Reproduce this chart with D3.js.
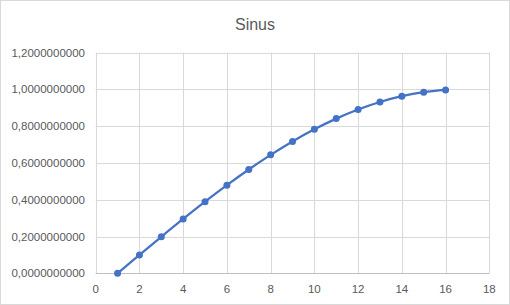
<!DOCTYPE html>
<html>
<head>
<meta charset="utf-8">
<script src="https://cdn.jsdelivr.net/npm/d3@7/dist/d3.min.js"></script>
<style>
  body { margin: 0; background: #fff; }
  svg { display: block; }
  text { font-family: "Liberation Sans", Arial, sans-serif; fill: #595959; }
</style>
</head>
<body>
<svg width="510" height="305"></svg>
<script>
"use strict";

var title = "Sinus";
var xValues = [1, 2, 3, 4, 5, 6, 7, 8, 9, 10, 11, 12, 13, 14, 15, 16];
var yValues = [0, 0.0998, 0.1987, 0.2955, 0.3894, 0.4794, 0.5646, 0.6442,
               0.7174, 0.7833, 0.8415, 0.8912, 0.9320, 0.9636, 0.9854, 0.9975];
var xTicks = [0, 2, 4, 6, 8, 10, 12, 14, 16, 18];
var yTicks = [0, 0.2, 0.4, 0.6, 0.8, 1.0, 1.2];

var svg = d3.select("svg");
var width = 510, height = 305;

var x = d3.scaleLinear().domain([0, 18]).range([95.7, 489.3]);
var y = d3.scaleLinear().domain([0, 1.2]).range([273.3, 52.7]);

// chart border
svg.append("rect")
    .attr("x", 0.5).attr("y", 0.5)
    .attr("width", width - 1).attr("height", height - 1)
    .attr("fill", "#fff")
    .attr("stroke", "#d9d9d9");

// title
svg.append("text")
    .attr("x", 255).attr("y", 30)
    .attr("text-anchor", "middle")
    .style("font-size", "16px")
    .text(title);

// gridlines
svg.append("g").selectAll("line.h")
    .data(yTicks.filter(function(d) { return d > 0; }))
    .enter().append("line")
    .attr("x1", x(0)).attr("x2", x(18))
    .attr("y1", function(d) { return Math.round(y(d)) + 0.5; })
    .attr("y2", function(d) { return Math.round(y(d)) + 0.5; })
    .attr("stroke", "#d9d9d9");

svg.append("g").selectAll("line.v")
    .data(xTicks)
    .enter().append("line")
    .attr("x1", function(d) { return Math.round(x(d)) + 0.5; })
    .attr("x2", function(d) { return Math.round(x(d)) + 0.5; })
    .attr("y1", y(1.2)).attr("y2", y(0))
    .attr("stroke", "#d9d9d9");

// x axis line
svg.append("line")
    .attr("x1", x(0)).attr("x2", x(18))
    .attr("y1", Math.round(y(0)) + 0.5).attr("y2", Math.round(y(0)) + 0.5)
    .attr("stroke", "#bfbfbf");

// tick labels
var fmt = function(d) { return d3.format(".10f")(d).replace(".", ","); };

svg.append("g").selectAll("text")
    .data(yTicks)
    .enter().append("text")
    .attr("x", 85)
    .attr("y", function(d) { return y(d) + 4; })
    .attr("text-anchor", "end")
    .style("font-size", "11.5px")
    .text(fmt);

svg.append("g").selectAll("text")
    .data(xTicks)
    .enter().append("text")
    .attr("x", function(d) { return x(d); })
    .attr("y", 293)
    .attr("text-anchor", "middle")
    .style("font-size", "11.5px")
    .text(function(d) { return d; });

// series
var points = xValues.map(function(d, i) { return [d, yValues[i]]; });

var line = d3.line()
    .x(function(d) { return x(d[0]); })
    .y(function(d) { return y(d[1]); })
    .curve(d3.curveCatmullRom.alpha(0.5));

svg.append("path")
    .datum(points)
    .attr("d", line)
    .attr("fill", "none")
    .attr("stroke", "#4472c4")
    .attr("stroke-width", 2.25);

svg.append("g").selectAll("circle")
    .data(points)
    .enter().append("circle")
    .attr("cx", function(d) { return x(d[0]); })
    .attr("cy", function(d) { return y(d[1]); })
    .attr("r", 3.5)
    .attr("fill", "#4472c4");
</script>
</body>
</html>
